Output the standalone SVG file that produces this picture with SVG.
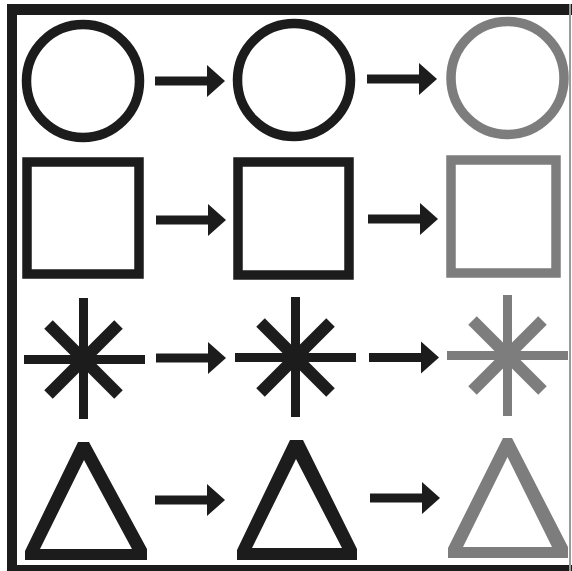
<svg xmlns="http://www.w3.org/2000/svg" xmlns:xlink="http://www.w3.org/1999/xlink" width="572" height="571" viewBox="0 0 572 571">
<style>
.dk{fill:none;stroke:#1c1c1c;stroke-width:9.5}
.gy{fill:none;stroke:#7d7d7d;stroke-width:9.5}
.dkf{fill:#1c1c1c;fill-rule:evenodd}
.gyf{fill:#7d7d7d;fill-rule:evenodd}
.orth{stroke-width:9;stroke-linecap:butt}
.diag{stroke-width:12;stroke-linecap:butt}
</style>
<defs>
<path id="arrow" d="M0,-4.5 H52 V-16 L70,0 L52,16 V4.5 H0 Z" fill="#1c1c1c"/>
</defs>
<rect width="572" height="571" fill="#ffffff"/>
<g id="frame">
<rect x="7" y="4" width="565" height="11" fill="#1c1c1c"/>
<rect x="7" y="4" width="10" height="567" fill="#1c1c1c"/>
<rect x="7" y="565" width="565" height="6" fill="#1c1c1c"/>
<rect x="569" y="4" width="2" height="567" fill="#9a9a9a"/>
</g>
<g id="circle1"><circle class="dk" cx="83" cy="81" r="56.5"/></g>
<g id="circle2"><circle class="dk" cx="294" cy="80" r="56.5"/></g>
<g id="circle3"><circle class="gy" cx="507.5" cy="78" r="56.5"/></g>
<g id="square1"><rect class="dk" x="27" y="162" width="112" height="112"/></g>
<g id="square2"><rect class="dk" x="238" y="162" width="111" height="113"/></g>
<g id="square3"><rect class="gy" x="451" y="160" width="105" height="113"/></g>
<g id="star1" stroke="#1c1c1c">
<line class="orth" x1="24" y1="359.5" x2="145" y2="359.5"/>
<line class="orth" x1="83.5" y1="298" x2="83.5" y2="419"/>
<line class="diag" x1="48.5" y1="324.5" x2="118.5" y2="394.5"/>
<line class="diag" x1="118.5" y1="324.5" x2="48.5" y2="394.5"/>
</g>
<g id="star2" stroke="#1c1c1c">
<line class="orth" x1="235" y1="357.5" x2="356" y2="357.5"/>
<line class="orth" x1="295.5" y1="297" x2="295.5" y2="417"/>
<line class="diag" x1="260.5" y1="322.5" x2="330.5" y2="392.5"/>
<line class="diag" x1="330.5" y1="322.5" x2="260.5" y2="392.5"/>
</g>
<g id="star3" stroke="#7d7d7d">
<line class="orth" x1="447" y1="355.5" x2="568" y2="355.5"/>
<line class="orth" x1="507.5" y1="295" x2="507.5" y2="416"/>
<line class="diag" x1="472.5" y1="320.5" x2="542.5" y2="390.5"/>
<line class="diag" x1="542.5" y1="320.5" x2="472.5" y2="390.5"/>
</g>
<g id="triangle1"><path class="dkf" d="M78,442 L89,442 L147,549 L147,560 L25,560 L25,551 Z M84,460 L40,549 L132,549 Z"/></g>
<g id="triangle2"><path class="dkf" d="M290,440 L303,440 L357,549 L357,560 L237,560 L237,550 Z M296,459 L252,548 L342,548 Z"/></g>
<g id="triangle3"><path class="gyf" d="M503,438 L512,438 L568,547 L568,558 L448,558 L448,548 Z M507.5,457 L463,547 L552,547 Z"/></g>
<g id="connectors">
<use xlink:href="#arrow" x="155" y="81"/>
<use xlink:href="#arrow" x="367" y="79"/>
<use xlink:href="#arrow" x="156" y="220"/>
<use xlink:href="#arrow" x="368" y="219"/>
<use xlink:href="#arrow" x="156" y="358"/>
<use xlink:href="#arrow" x="369" y="357.5"/>
<use xlink:href="#arrow" x="155" y="500"/>
<use xlink:href="#arrow" x="370" y="498"/>
</g>
</svg>
